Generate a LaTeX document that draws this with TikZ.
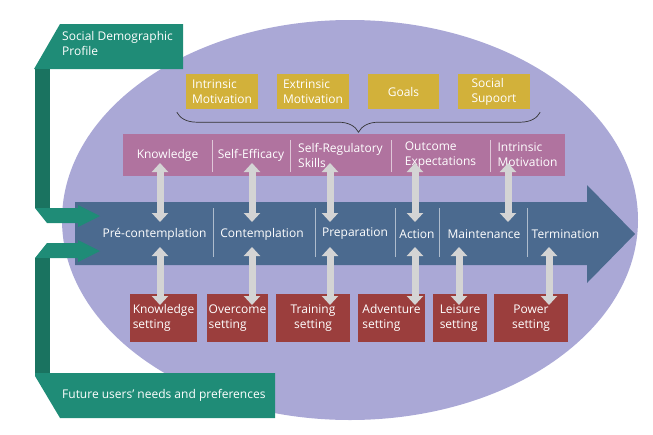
\documentclass[tikz,border=0pt]{standalone}
\usepackage{fontspec}
\setmainfont{Open Sans}
\usepackage{tikz}
\usepackage{xcolor}
\usetikzlibrary{arrows.meta,decorations.pathreplacing}
\definecolor{ovalc}{HTML}{AAA8D6}
\definecolor{tealc}{HTML}{1F8C77}
\definecolor{tealdarkc}{HTML}{1A7360}
\definecolor{bandc}{HTML}{4B6A8F}
\definecolor{factorc}{HTML}{B0739F}
\definecolor{incentivec}{HTML}{D2B13A}
\definecolor{settingc}{HTML}{9B3E3D}
\definecolor{arrowc}{HTML}{D4D4D4}
\colorlet{factorsepc}{factorc!40!white}
\colorlet{bandsepc}{bandc!45!white}
\tikzstyle{factor} =[
    fill=factorc,
    text=white,
    minimum height=42pt,
    inner sep=0pt,
    align=left
    ]
\tikzstyle{incentive} =[
    fill=incentivec,
    text=white,
    minimum width=72pt,
    minimum height=35pt,
    inner sep=0pt,
    align=left
    ]
\tikzstyle{setting} =[
    fill=settingc,
    text=white,
    minimum height=48pt,
    inner sep=0pt
    ]
\tikzstyle{stage} =[
    text=white,
    inner sep=0pt
    ]
\tikzstyle{dblarrow} =[
    draw=arrowc,
    line width=7pt,
    {Triangle[width=16pt,length=9pt]}-{Triangle[width=16pt,length=9pt]}
    ]

\begin{document}
\begin{tikzpicture}[x=1pt, y=-1pt, font=\fontsize{12}{15}\selectfont]
\useasboundingbox (0,0) rectangle (653,434);
\fill[ovalc] (350,220) ellipse [x radius=288pt, y radius=200pt];

% stages
\fill[bandc] (75,202) -- (587,202) -- (587,185) -- (635,234) -- (587,283) -- (587,265) -- (75,265) -- cycle;
\draw[bandsepc, line width=0.8pt] (213,208) -- (213,257) (315,208) -- (315,257) (395,208) -- (395,257)
    (439,208) -- (439,257) (527,208) -- (527,257);
\node[stage] (pre) at (154.5,234) {Pré-contemplation};
\node[stage] (con) at (262,234) {Contemplation};
\node[stage] (prep) at (355,234) {Preparation};
\node[stage] (act) at (417,234) {Action};
\node[stage] (mnt) at (484,234) {Maintenance};
\node[stage] (term) at (565.5,234) {Termination};

% input profiles
\fill[tealc] (60,24) -- (183,24) -- (183,69) -- (34,69) -- cycle;
\fill[tealdarkc] (35,69) -- (50,69) -- (50,208) -- (35,208) -- cycle;
\fill[tealc] (35,208) -- (78,208) -- (78,205) -- (100,216) -- (78,227) -- (78,223) -- (47,223) -- cycle;
\fill[tealc] (47,243) -- (78,243) -- (78,240) -- (100,251) -- (78,262) -- (78,258) -- (35,258) -- cycle;
\fill[tealdarkc] (35,258) -- (50,258) -- (50,373) -- (35,373) -- cycle;
\fill[tealc] (35,373) -- (275,373) -- (275,418) -- (60,418) -- (35,376) -- cycle;
\node[anchor=north west, inner sep=0pt, align=left, text=white] (sdp) at (62,31) {Social Demographic\\Profile};
\node[anchor=west, inner sep=0pt, text=white] (fun) at (62,395) {Future users' needs and preferences};

% incentives
\node[incentive] (yim) at (222,91.5) {Intrinsic\\Motivation};
\node[incentive] (yem) at (313,91.5) {Extrinsic\\Motivation};
\node[incentive, minimum width=71pt] (ygo) at (403.5,91.5) {Goals};
\node[incentive] (yss) at (494,91.5) {Social\\Supoort};
\draw[black!80, line width=0.7pt, decorate, decoration={brace, amplitude=20pt, mirror}]
    ([xshift=-9pt,yshift=-3pt]yim.south west) -- ([xshift=10pt,yshift=-3pt]yss.south east);

% determinants
\node[factor, minimum width=89pt] (knw) at (167.5,155) {Knowledge};
\node[factor, minimum width=78pt] (eff) at (251,155) {Self-Efficacy};
\node[factor, minimum width=101pt] (reg) at (340.5,155) {Self-Regulatory\\Skills};
\node[factor, minimum width=99pt] (out) at (440.5,155) {Outcome\\Expectations};
\node[factor, minimum width=75pt] (intr) at (527.5,155) {Intrinsic\\Motivation};
\draw[factorsepc, line width=0.8pt] ([yshift=-6pt]knw.north east) -- ([yshift=4pt]knw.south east);
\draw[factorsepc, line width=0.8pt] ([yshift=-6pt]eff.north east) -- ([yshift=4pt]eff.south east);
\draw[factorsepc, line width=0.8pt] ([yshift=-6pt]reg.north east) -- ([yshift=4pt]reg.south east);
\draw[factorsepc, line width=0.8pt] ([yshift=-6pt]out.north east) -- ([yshift=4pt]out.south east);

% settings
\node[setting, minimum width=67pt, align=left] (kset) at (163.5,318) {Knowledge\\setting};
\node[setting, minimum width=61pt, align=left] (oset) at (237.5,318) {Overcome\\setting};
\node[setting, minimum width=74pt, align=center] (tset) at (313,318) {Training\\setting};
\node[setting, minimum width=67pt, align=left] (aset) at (391.5,318) {Adventure\\setting};
\node[setting, minimum width=54pt, align=left] (lset) at (460,318) {Leisure\\setting};
\node[setting, minimum width=74pt, align=center] (pset) at (531,318) {Power\\setting};

% links
\draw[dblarrow] ([xshift=-7.5pt,yshift=-8pt]knw.center) -- ([xshift=5.5pt,yshift=12pt]pre.center);
\draw[dblarrow] ([xshift=1pt,yshift=-8pt]eff.center) -- ([xshift=-10pt,yshift=12pt]con.center);
\draw[dblarrow] ([xshift=-10.5pt,yshift=-8pt]reg.center) -- ([xshift=-25pt,yshift=12pt]prep.center);
\draw[dblarrow] ([xshift=-25.5pt,yshift=-8pt]out.center) -- ([xshift=-2pt,yshift=12pt]act.center);
\draw[dblarrow] ([xshift=-19.5pt,yshift=-8pt]intr.center) -- ([xshift=24pt,yshift=12pt]mnt.center);
\draw[dblarrow] ([xshift=5.5pt,yshift=-13pt]pre.center) -- ([xshift=-3.5pt,yshift=13pt]kset.center);
\draw[dblarrow] ([xshift=-10pt,yshift=-13pt]con.center) -- ([xshift=14.5pt,yshift=13pt]oset.center);
\draw[dblarrow] ([xshift=-25pt,yshift=-13pt]prep.center) -- ([xshift=17pt,yshift=13pt]tset.center);
\draw[dblarrow] ([xshift=-2pt,yshift=-13pt]act.center) -- ([xshift=23.5pt,yshift=13pt]aset.center);
\draw[dblarrow] ([xshift=-25pt,yshift=-13pt]mnt.center) -- ([xshift=-1pt,yshift=13pt]lset.center);
\draw[dblarrow] ([xshift=-16.5pt,yshift=-13pt]term.center) -- ([xshift=18pt,yshift=13pt]pset.center);
\end{tikzpicture}
\end{document}
